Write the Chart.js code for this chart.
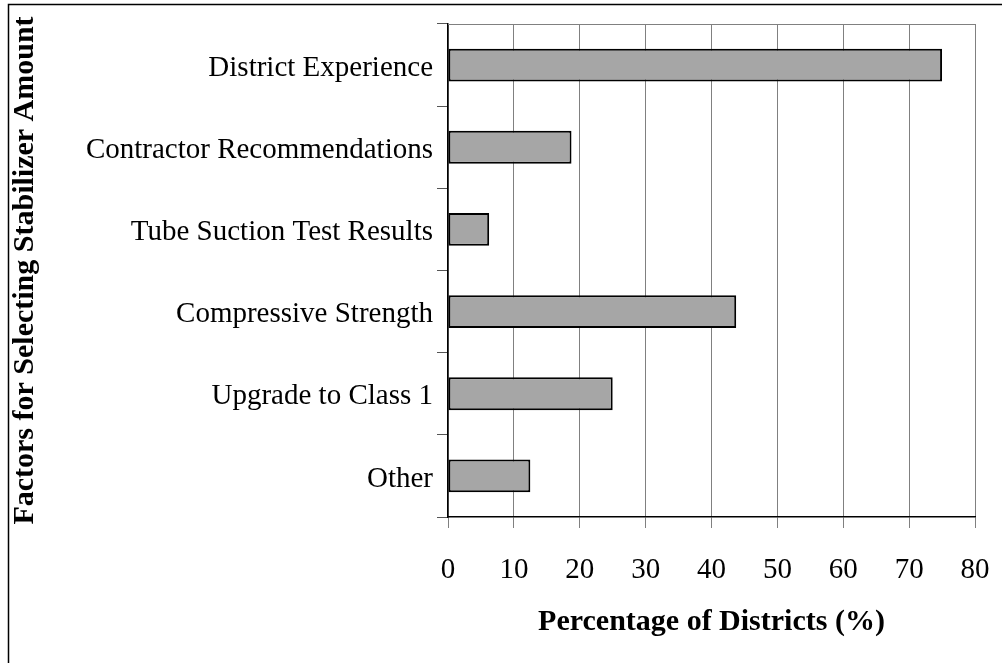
<!DOCTYPE html>
<html>
<head>
<meta charset="utf-8">
<script src="https://cdn.jsdelivr.net/npm/chart.js@4/dist/chart.umd.min.js"></script>
<style>
  html, body { margin: 0; padding: 0; background: #fff; }
  #wrap { width: 1002px; height: 663px; }
</style>
</head>
<body>
<div id="wrap"><canvas id="barChart" width="1002" height="663"></canvas></div>
<script>
(() => {
  'use strict'

  // Data
  const factors = [
    'District Experience',
    'Contractor Recommendations',
    'Tube Suction Test Results',
    'Compressive Strength',
    'Upgrade to Class 1',
    'Other'
  ];
  const percentages = [75, 18.75, 6.25, 43.75, 25, 12.5];
  const xTicks = [0, 10, 20, 30, 40, 50, 60, 70, 80];

  const serif = "'Liberation Serif', 'Times New Roman', serif";

  // outer frame + top border of the plot area
  const frame = {
    id: 'frame',
    afterDraw(chart) {
      const { ctx, chartArea } = chart;
      ctx.save();
      ctx.strokeStyle = '#000';
      ctx.lineWidth = 1.5;
      ctx.strokeRect(8.5, 4.5, 1200, 1200);
      ctx.strokeStyle = '#808080';
      ctx.lineWidth = 1;
      ctx.beginPath();
      ctx.moveTo(chartArea.left, chartArea.top + 0.5);
      ctx.lineTo(chartArea.right, chartArea.top + 0.5);
      ctx.stroke();
      ctx.restore();
    }
  };

  const ctx = document.getElementById('barChart').getContext('2d');

  new Chart(ctx, {
    type: 'bar',
    data: {
      labels: factors,
      datasets: [{
        data: percentages,
        backgroundColor: '#a6a6a6',
        borderColor: '#000',
        borderWidth: 2,
        borderSkipped: false,
        barPercentage: 0.4,
        categoryPercentage: 1
      }]
    },
    options: {
      indexAxis: 'y',
      responsive: false,
      animation: false,
      layout: { padding: { top: 24, right: 27, left: 0, bottom: 0 } },
      plugins: {
        legend: { display: false },
        tooltip: { enabled: false }
      },
      scales: {
        x: {
          min: 0,
          max: 80,
          afterFit: (s) => { s.height = 146; s.paddingLeft = 0; s.paddingRight = 0; },
          afterBuildTicks: (s) => { s.ticks = xTicks.map(v => ({ value: v })); },
          grid: { color: '#808080', lineWidth: 1, tickLength: 11, tickColor: '#808080' },
          border: { color: '#000', width: 1.5 },
          ticks: { color: '#000', padding: 25, font: { family: serif, size: 29 } },
          title: {
            display: true,
            text: 'Percentage of Districts (%)',
            color: '#000',
            padding: { top: 0, bottom: 23 },
            font: { family: serif, size: 30, weight: 'bold' }
          }
        },
        y: {
          afterFit: (s) => { s.width = 448; s.paddingTop = 0; s.paddingBottom = 0; },
          grid: { drawOnChartArea: false, tickLength: 11, tickColor: '#555', offset: true },
          border: { color: '#000', width: 1.5 },
          ticks: { color: '#000', padding: 4, labelOffset: 3, font: { family: serif, size: 29 } },
          title: {
            display: true,
            text: 'Factors for Selecting Stabilizer Amount',
            color: '#000',
            padding: { top: 7, bottom: 0 },
            font: { family: serif, size: 30, weight: 'bold' }
          }
        }
      }
    },
    plugins: [frame]
  });
})()
</script>
</body>
</html>
